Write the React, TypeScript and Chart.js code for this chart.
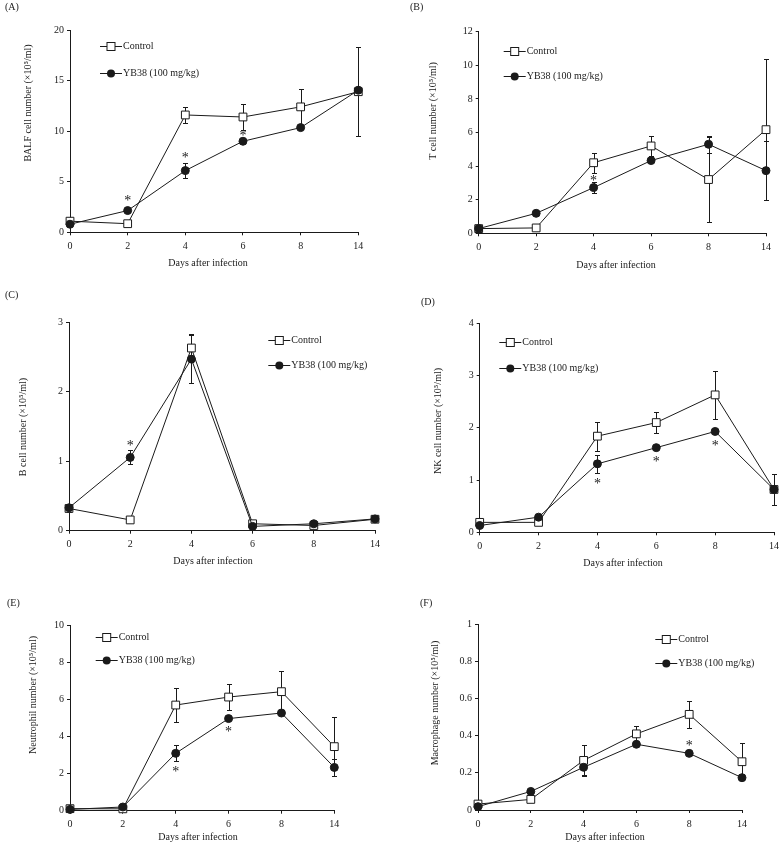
import React, { useEffect, useRef } from "react";
import { Chart, registerables } from "chart.js";
Chart.register(...registerables);

// ---------- data ----------
const days = ["0", "2", "4", "6", "8", "14"];
const seriesNames = ["Control", "YB38 (100 mg/kg)"];

// (A) BALF cells
const balfControl = [1.1, 0.85, 11.6, 11.4, 12.4, 13.9];
const balfControlErr = [0, 0, 0.75, 1.25, 1.8, 4.4];
const balfYB38 = [0.8, 2.15, 6.1, 9.0, 10.35, 14.05];
const balfYB38Err = [0, 0, 0.78, 0, 0, 0];
const balfStars = [[1, 3.3], [2, 7.6], [3, 9.8]];

// (B) T cells
const tControl = [0.28, 0.32, 4.2, 5.2, 3.2, 6.17];
const tControlErr = [0, 0, 0.6, 0.57, 2.55, 4.2];
const tYB38 = [0.28, 1.19, 2.72, 4.33, 5.3, 3.73];
const tYB38Err = [0, 0, 0.34, 0, 0.5, 1.77];
const tStars = [[2, 3.27]];

// (C) B cells
const bControl = [0.32, 0.155, 2.63, 0.1, 0.075, 0.165];
const bControlErr = [0.05, 0, 0.2, 0, 0, 0];
const bYB38 = [0.33, 1.055, 2.47, 0.062, 0.1, 0.17];
const bYB38Err = [0.05, 0.1, 0.35, 0, 0, 0.03];
const bStars = [[1, 1.25]];

// (D) NK cells
const nkControl = [0.19, 0.19, 1.84, 2.1, 2.63, 0.82];
const nkControlErr = [0, 0, 0.28, 0.2, 0.46, 0.29];
const nkYB38 = [0.13, 0.29, 1.31, 1.62, 1.93, 0.82];
const nkYB38Err = [0, 0, 0.17, 0, 0, 0];
const nkStars = [[2, 0.97], [3, 1.4], [4, 1.69]];

// (E) Neutrophils
const neuControl = [0.11, 0.1, 5.69, 6.12, 6.41, 3.45];
const neuControlErr = [0, 0, 0.92, 0.72, 1.1, 1.6];
const neuYB38 = [0.07, 0.2, 3.09, 4.96, 5.26, 2.33];
const neuYB38Err = [0, 0, 0.43, 0, 0, 0.46];
const neuStars = [[2, 2.23], [3, 4.38]];

// (F) Macrophages
const macControl = [0.032, 0.057, 0.267, 0.41, 0.515, 0.26];
const macControlErr = [0, 0, 0.083, 0.045, 0.074, 0.1];
const macYB38 = [0.018, 0.1, 0.23, 0.354, 0.305, 0.174];
const macYB38Err = [0, 0, 0.043, 0, 0, 0];
const macStars = [[4, 0.36]];

// ---------- layout ----------
const FONT = "'Liberation Serif', 'Times New Roman', serif";
const INK = "#1a1a1a";

type Panel = {
  tag: string;
  yTitle: string;
  control: number[];
  controlErr: number[];
  yb: number[];
  ybErr: number[];
  stars: number[][];
  yMax: number;
  yStep: number;
  canvas: { x: number; y: number; w: number; h: number };
  plot: { l: number; t: number; r: number; b: number };
  yTitlePos: [number, number];
  xTitlePos: [number, number];
  tagPos: [number, number];
  legend: { x: number; y1: number; y2: number };
};

const panels: Panel[] = [
  {
    tag: "(A)", yTitle: "BALF cell number (×10⁵/ml)",
    control: balfControl, controlErr: balfControlErr, yb: balfYB38, ybErr: balfYB38Err, stars: balfStars,
    yMax: 20, yStep: 5,
    canvas: { x: 0, y: 0, w: 392, h: 282 }, plot: { l: 70, t: 30, r: 358.3, b: 232.3 },
    yTitlePos: [28, 103], xTitlePos: [208, 263], tagPos: [5, 7], legend: { x: 100, y1: 46, y2: 73 },
  },
  {
    tag: "(B)", yTitle: "T cell number (×10⁵/ml)",
    control: tControl, controlErr: tControlErr, yb: tYB38, ybErr: tYB38Err, stars: tStars,
    yMax: 12, yStep: 2,
    canvas: { x: 392, y: 0, w: 392, h: 282 }, plot: { l: 478.7, t: 31.7, r: 766, b: 233.3 },
    yTitlePos: [433.7, 111], xTitlePos: [616, 265], tagPos: [410, 7], legend: { x: 503.7, y1: 50.7, y2: 76 },
  },
  {
    tag: "(C)", yTitle: "B cell number (×10⁵/ml)",
    control: bControl, controlErr: bControlErr, yb: bYB38, ybErr: bYB38Err, stars: bStars,
    yMax: 3, yStep: 1,
    canvas: { x: 0, y: 282, w: 392, h: 286 }, plot: { l: 69, t: 322.3, r: 375, b: 530.7 },
    yTitlePos: [23, 427], xTitlePos: [213, 561], tagPos: [5, 295], legend: { x: 268.3, y1: 340, y2: 365 },
  },
  {
    tag: "(D)", yTitle: "NK cell number (×10⁵/ml)",
    control: nkControl, controlErr: nkControlErr, yb: nkYB38, ybErr: nkYB38Err, stars: nkStars,
    yMax: 4, yStep: 1,
    canvas: { x: 392, y: 282, w: 392, h: 286 }, plot: { l: 479.7, t: 323.3, r: 777, b: 532.3 },
    yTitlePos: [438.7, 421], xTitlePos: [623, 563], tagPos: [421, 302], legend: { x: 499.3, y1: 341.7, y2: 368.3 },
  },
  {
    tag: "(E)", yTitle: "Neutrophil number (×10⁵/ml)",
    control: neuControl, controlErr: neuControlErr, yb: neuYB38, ybErr: neuYB38Err, stars: neuStars,
    yMax: 10, yStep: 2,
    canvas: { x: 0, y: 568, w: 392, h: 277 }, plot: { l: 70, t: 625, r: 334.3, b: 810.7 },
    yTitlePos: [33, 695], xTitlePos: [198, 837], tagPos: [7, 603], legend: { x: 95.7, y1: 636.7, y2: 660 },
  },
  {
    tag: "(F)", yTitle: "Macrophage number (×10⁵/ml)",
    control: macControl, controlErr: macControlErr, yb: macYB38, ybErr: macYB38Err, stars: macStars,
    yMax: 1, yStep: 0.2,
    canvas: { x: 392, y: 568, w: 392, h: 277 }, plot: { l: 478, t: 624.3, r: 742, b: 810 },
    yTitlePos: [435, 703], xTitlePos: [605, 837], tagPos: [420, 603], legend: { x: 655.3, y1: 639.3, y2: 663.3 },
  },
];

const Y_AXIS_W = 30;
const X_AXIS_H = 20;

function PanelChart({ p }: { p: Panel }) {
  const ref = useRef<HTMLCanvasElement>(null);
  useEffect(() => {
    const canvas = ref.current;
    if (!canvas) return;
    const { x: ox, y: oy, w, h } = p.canvas;

    const overlay = {
      id: "overlay",
      beforeDatasetsDraw(chart: any) {
        const ctx = chart.ctx;
        const ys = chart.scales.y;
        ctx.save();
        ctx.strokeStyle = INK;
        ctx.lineWidth = 1;
        const sets: [number[], number[], number][] = [
          [p.control, p.controlErr, 0],
          [p.yb, p.ybErr, 1],
        ];
        for (const [vals, errs, di] of sets) {
          const meta = chart.getDatasetMeta(di);
          vals.forEach((v, i) => {
            const e = errs[i];
            if (!e) return;
            const x = Math.round(meta.data[i].x) + 0.5;
            const y1 = Math.round(ys.getPixelForValue(v + e)) + 0.5;
            const y2 = Math.round(ys.getPixelForValue(v - e)) + 0.5;
            ctx.beginPath();
            ctx.moveTo(x, y1);
            ctx.lineTo(x, y2);
            ctx.moveTo(x - 2.5, y1);
            ctx.lineTo(x + 2.5, y1);
            ctx.moveTo(x - 2.5, y2);
            ctx.lineTo(x + 2.5, y2);
            ctx.stroke();
          });
        }
        ctx.restore();
      },
      afterDraw(chart: any) {
        const ctx = chart.ctx;
        const xs = chart.scales.x;
        const ys = chart.scales.y;
        ctx.save();
        ctx.fillStyle = INK;
        ctx.strokeStyle = INK;
        ctx.lineWidth = 1;

        // asterisks
        ctx.font = `14px ${FONT}`;
        ctx.textAlign = "center";
        ctx.textBaseline = "alphabetic";
        for (const [i, v] of p.stars) {
          const x = xs.getPixelForValue(i);
          const y = ys.getPixelForValue(v);
          ctx.fillText("*", x, y + 6.5);
        }

        // panel tag
        ctx.font = `10px ${FONT}`;
        ctx.textBaseline = "middle";
        ctx.textAlign = "left";
        ctx.fillText(p.tag, p.tagPos[0] - ox, p.tagPos[1] - oy);

        // x title
        ctx.textAlign = "center";
        ctx.fillText("Days after infection", p.xTitlePos[0] - ox, p.xTitlePos[1] - oy);

        // y title
        ctx.save();
        ctx.translate(p.yTitlePos[0] - ox, p.yTitlePos[1] - oy);
        ctx.rotate(-Math.PI / 2);
        ctx.fillText(p.yTitle, 0, 0);
        ctx.restore();

        // legend
        const rows: [number, string, string][] = [
          [p.legend.y1, "rect", chart.data.datasets[0].label],
          [p.legend.y2, "circle", chart.data.datasets[1].label],
        ];
        for (const [ly, style, label] of rows) {
          const lx = p.legend.x - ox;
          const yy = Math.round(ly - oy) + 0.5;
          ctx.beginPath();
          ctx.moveTo(lx, yy);
          ctx.lineTo(lx + 22, yy);
          ctx.stroke();
          if (style === "rect") {
            ctx.fillStyle = "#fff";
            ctx.fillRect(lx + 7, yy - 4, 8, 8);
            ctx.strokeRect(lx + 7, yy - 4, 8, 8);
          } else {
            ctx.beginPath();
            ctx.arc(lx + 11, yy, 4, 0, Math.PI * 2);
            ctx.fillStyle = INK;
            ctx.fill();
          }
          ctx.fillStyle = INK;
          ctx.textAlign = "left";
          ctx.textBaseline = "middle";
          ctx.fillText(label, lx + 23, yy);
        }
        ctx.restore();
      },
    };

    const pad = {
      left: p.plot.l - ox - Y_AXIS_W,
      top: p.plot.t - oy,
      right: ox + w - p.plot.r,
      bottom: oy + h - p.plot.b - X_AXIS_H,
    };

    const gridOpts = {
      display: true,
      drawOnChartArea: false,
      drawTicks: true,
      tickLength: 3,
      color: INK,
      lineWidth: 1,
    };

    const chart = new Chart(canvas, {
      type: "line",
      data: {
        labels: days,
        datasets: [
          {
            label: seriesNames[0],
            data: p.control,
            borderColor: INK,
            borderWidth: 1,
            pointStyle: "rect",
            pointRadius: 5.5,
            pointBackgroundColor: "#fff",
            pointBorderColor: INK,
            pointBorderWidth: 1,
            tension: 0,
            fill: false,
            clip: false,
            order: 1,
          },
          {
            label: seriesNames[1],
            data: p.yb,
            borderColor: INK,
            borderWidth: 1,
            pointStyle: "circle",
            pointRadius: 4,
            pointBackgroundColor: INK,
            pointBorderColor: INK,
            pointBorderWidth: 1,
            tension: 0,
            fill: false,
            clip: false,
            order: 0,
          },
        ],
      },
      options: {
        responsive: false,
        animation: false,
        events: [],
        layout: { padding: pad },
        plugins: {
          legend: { display: false },
          tooltip: { enabled: false },
          title: { display: false },
        },
        scales: {
          x: {
            type: "category",
            offset: false,
            grid: { ...gridOpts, offset: false },
            border: { display: true, color: INK, width: 1 },
            ticks: {
              font: { family: FONT, size: 10 },
              color: INK,
              padding: 5,
              maxRotation: 0,
              autoSkip: false,
            },
            afterFit: (s: any) => {
              s.height = X_AXIS_H;
            },
          },
          y: {
            type: "linear",
            min: 0,
            max: p.yMax,
            grid: gridOpts,
            border: { display: true, color: INK, width: 1 },
            ticks: {
              stepSize: p.yStep,
              font: { family: FONT, size: 10 },
              color: INK,
              padding: 3,
              callback: (v: any) => String(Math.round(Number(v) * 100) / 100),
            },
            afterFit: (s: any) => {
              s.width = Y_AXIS_W;
            },
          },
        },
      } as any,
      plugins: [overlay],
    });
    return () => chart.destroy();
  }, [p]);

  return (
    <canvas
      ref={ref}
      width={p.canvas.w}
      height={p.canvas.h}
      style={{
        position: "absolute",
        left: p.canvas.x,
        top: p.canvas.y,
        width: p.canvas.w,
        height: p.canvas.h,
        display: "block",
      }}
    />
  );
}

export default function App() {
  return (
    <div
      style={{
        position: "absolute",
        left: 0,
        top: 0,
        width: 784,
        height: 845,
        background: "#fff",
        overflow: "hidden",
      }}
    >
      {panels.map((p) => (
        <PanelChart key={p.tag} p={p} />
      ))}
    </div>
  );
}
